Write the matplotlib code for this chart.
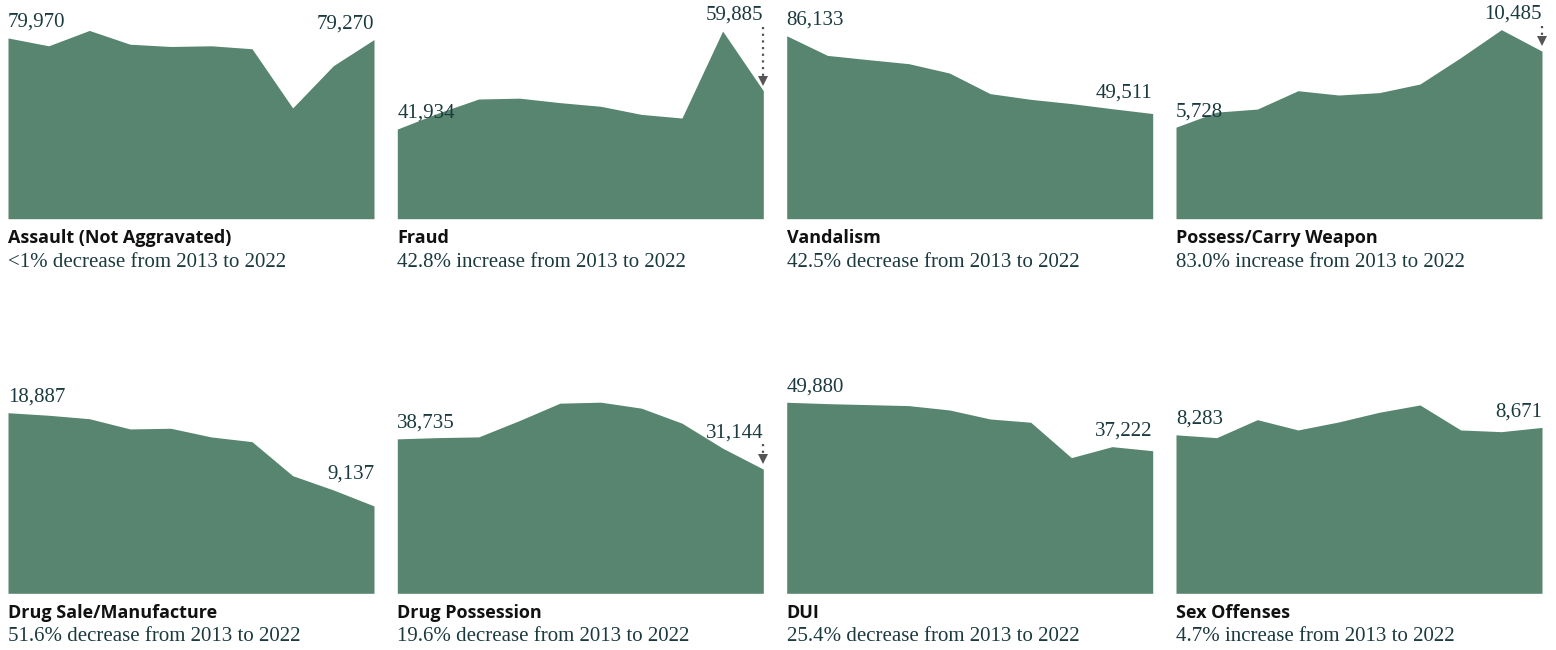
import matplotlib
matplotlib.use('Agg')
import matplotlib.pyplot as plt

# Datos por año (arrestos)
years = [2013, 2014, 2015, 2016, 2017, 2018, 2019, 2020, 2021, 2022]

assault = [79970, 76500, 83300, 77200, 76200, 76500, 75200, 49000, 67700, 79270]
fraud = [41934, 49400, 56000, 56400, 54300, 52600, 48800, 47100, 87800, 59885]
vandalism = [86133, 76900, 74900, 73000, 68600, 58900, 56200, 54200, 51800, 49511]
weapon = [5728, 6670, 6860, 8010, 7740, 7890, 8430, 10080, 11830, 10485]
drug_sale = [18887, 18620, 18260, 17190, 17260, 16350, 15860, 12300, 10810, 9137]
drug_poss = [38735, 39050, 39230, 43320, 47690, 47940, 46440, 42670, 36400, 31144]
dui = [49880, 49520, 49260, 49000, 47870, 45520, 44660, 35420, 38290, 37222]
sex_off = [8283, 8135, 9076, 8537, 8956, 9463, 9844, 8537, 8448, 8671]

series = [assault, fraud, vandalism, weapon, drug_sale, drug_poss, dui, sex_off]

titles = ['Assault (Not Aggravated)', 'Fraud', 'Vandalism', 'Possess/Carry Weapon',
          'Drug Sale/Manufacture', 'Drug Possession', 'DUI', 'Sex Offenses']
subtitles = ['<1% decrease from 2013 to 2022', '42.8% increase from 2013 to 2022',
             '42.5% decrease from 2013 to 2022', '83.0% increase from 2013 to 2022',
             '51.6% decrease from 2013 to 2022', '19.6% decrease from 2013 to 2022',
             '25.4% decrease from 2013 to 2022', '4.7% increase from 2013 to 2022']

# escala vertical de cada panel y si lleva flecha
y_tops = [88800, 93900, 94500, 12560, 20990, 50340, 52400, 10490]
arrows = [False, True, False, True, False, True, False, False]

green = '#58856f'
teal = '#1b3a40'
serif = ['Liberation Serif', 'DejaVu Serif']

W, H = 1556, 650
fig = plt.figure(figsize=(W / 100, H / 100), dpi=100)

ax_h = 200.7
ax_w = 366
lefts = [8, 397.3, 786.7, 1176]
baselines = [218.7, 593.3]

for i, vals in enumerate(series):
    row, col = divmod(i, 4)
    left = lefts[col]
    base = baselines[row]
    ax = fig.add_axes([left / W, 1 - base / H, ax_w / W, ax_h / H])
    ax.fill_between(years, 0, vals, color=green, linewidth=0)
    ax.set_xlim(years[0], years[-1])
    ax.set_ylim(0, y_tops[i])
    ax.axis('off')

    upp = y_tops[i] / ax_h  # unidades por pixel
    gap = 8  # puntos

    # etiqueta inicial
    ax.annotate(f'{vals[0]:,}', xy=(years[0], vals[0]), xytext=(0, gap),
                textcoords='offset points', ha='left', va='baseline',
                fontsize=15, color=teal, family=serif, annotation_clip=False)

    # etiqueta final, encima del punto mas alto de los dos ultimos años
    anchor = max(vals[-2], vals[-1])
    ax.annotate(f'{vals[-1]:,}', xy=(years[-1], anchor), xytext=(0, gap),
                textcoords='offset points', ha='right', va='baseline',
                fontsize=15, color=teal, family=serif, annotation_clip=False)

    if arrows[i]:
        start = anchor + 4 * upp
        head = vals[-1] + 10 * upp
        ax.plot([years[-1], years[-1]], [start, head], color='#555555', lw=1.6,
                linestyle=(0, (1, 2)), clip_on=False)
        ax.plot(years[-1], head, marker='v', ms=7.5, color='#555555',
                markeredgewidth=0, clip_on=False)

    # titulo y subtitulo debajo del area
    ax.annotate(titles[i], xy=(0, 0), xycoords='axes fraction', xytext=(0, -19.5 * 0.72),
                textcoords='offset points', ha='left', va='center', fontsize=13,
                fontweight='bold', family=['Open Sans', 'DejaVu Sans'], color='#111111')
    ax.annotate(subtitles[i], xy=(0, 0), xycoords='axes fraction', xytext=(0, -43.5 * 0.72),
                textcoords='offset points', ha='left', va='center', fontsize=15,
                family=serif, color=teal)

fig.savefig('out.png', dpi=100, facecolor='white')
